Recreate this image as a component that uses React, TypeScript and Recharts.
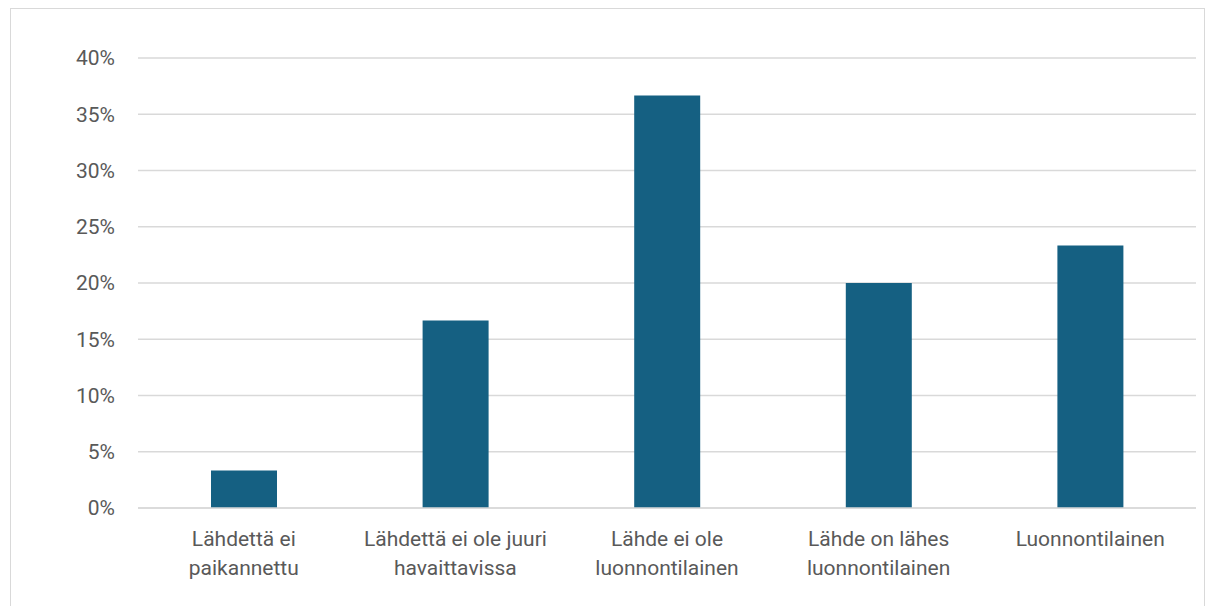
import React from "react";
import { BarChart, Bar, XAxis, YAxis, CartesianGrid } from "recharts";

const categories = [
  "Lähdettä ei\npaikannettu",
  "Lähdettä ei ole juuri\nhavaittavissa",
  "Lähde ei ole\nluonnontilainen",
  "Lähde on lähes\nluonnontilainen",
  "Luonnontilainen",
];
const shares = [0.0333, 0.1667, 0.3667, 0.2, 0.2333];
const yTicks = [0, 0.05, 0.1, 0.15, 0.2, 0.25, 0.3, 0.35, 0.4];

const data = categories.map((c, i) => ({ category: c, value: shares[i] }));

const FONT = "Roboto, 'Noto Sans', sans-serif";
const TEXT = "#595959";

const XTick = (props: any) => {
  const { x, y, payload } = props;
  const lines = String(payload.value).split("\n");
  return (
    <text x={x} y={y} textAnchor="middle" fill={TEXT} fontSize={21} fontFamily={FONT}>
      {lines.map((l: string, i: number) => (
        <tspan key={i} x={x} dy={i === 0 ? 38 : 29}>
          {l}
        </tspan>
      ))}
    </text>
  );
};

export default function App() {
  return (
    <div style={{ position: "fixed", left: 0, top: 0, width: 1208, height: 606, overflow: "hidden", background: "#fff" }}>
      <div
        style={{
          position: "absolute",
          left: 10,
          top: 8,
          width: 1195,
          height: 640,
          border: "1.5px solid #d9d9d9",
          boxSizing: "border-box",
        }}
      />
      <div style={{ position: "absolute", left: 0, top: 0 }}>
        <BarChart width={1208} height={606} data={data} margin={{ top: 58, right: 12, bottom: 0, left: 0 }}>
          <CartesianGrid vertical={false} stroke="#d9d9d9" strokeWidth={1.3} />
          <XAxis
            dataKey="category"
            interval={0}
            tickLine={false}
            axisLine={{ stroke: "#d9d9d9", strokeWidth: 1.3 }}
            tickSize={0}
            tickMargin={0}
            tick={<XTick />}
            height={98}
          />
          <YAxis
            width={138}
            domain={[0, 0.4]}
            ticks={yTicks}
            tickFormatter={(v: number) => `${Math.round(v * 100)}%`}
            axisLine={false}
            tickLine={false}
            tickSize={0}
            tickMargin={23}
            tick={{ fill: TEXT, fontSize: 21, fontFamily: FONT }}
          />
          <Bar dataKey="value" fill="#156082" barSize={66} isAnimationActive={false} />
        </BarChart>
      </div>
    </div>
  );
}
